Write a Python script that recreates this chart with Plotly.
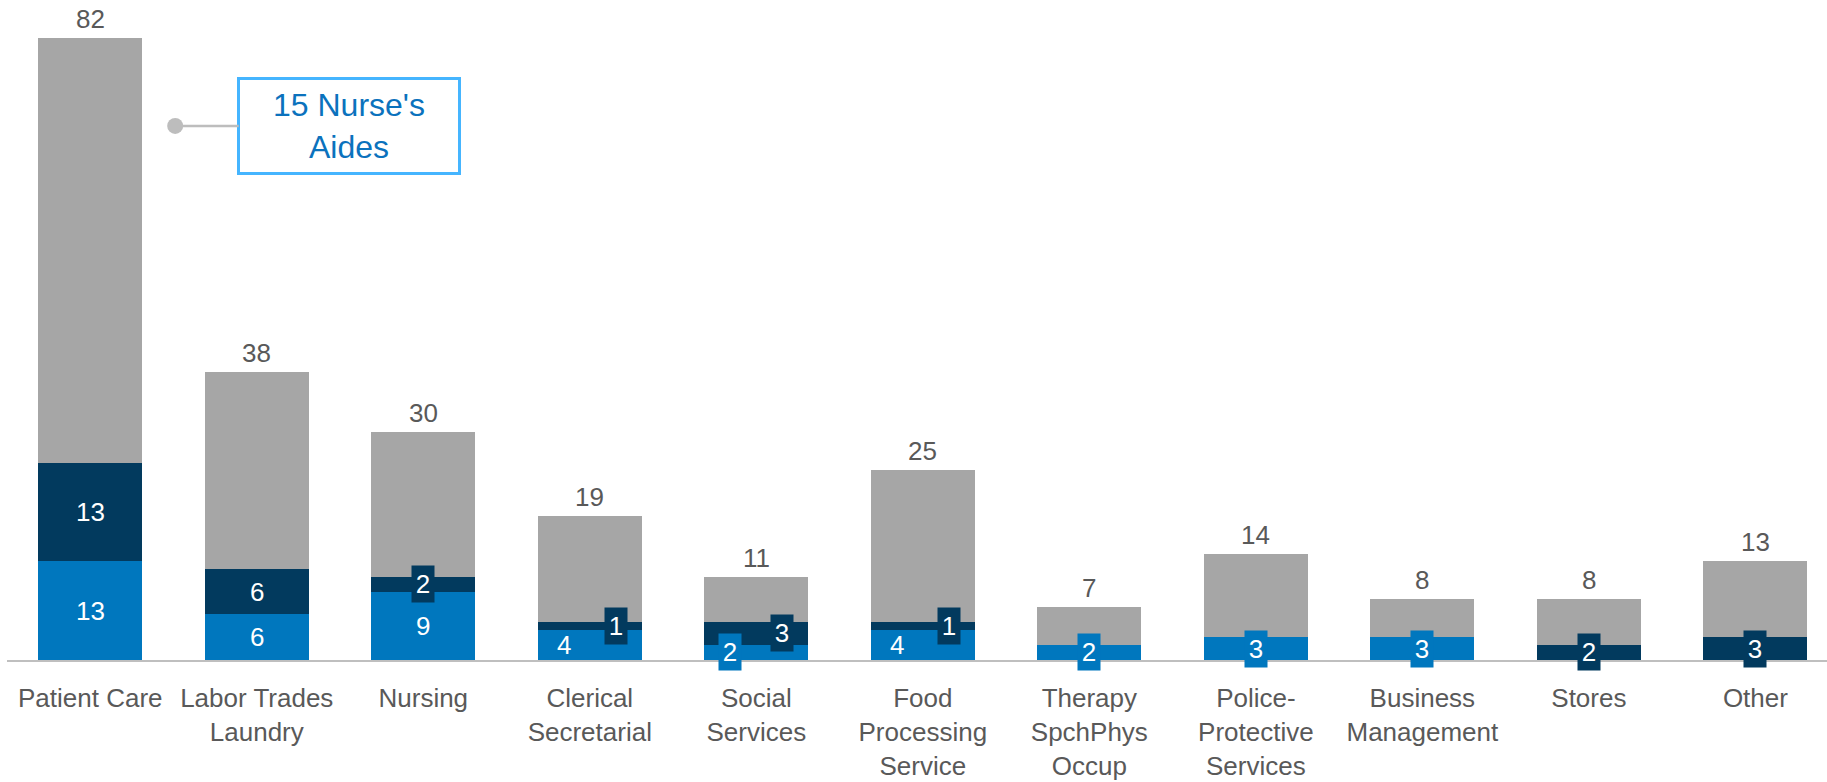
import plotly.graph_objects as go

# ---- data ----
categories = ["Patient Care", "Labor Trades<br>Laundry", "Nursing", "Clerical<br>Secretarial",
              "Social<br>Services", "Food<br>Processing<br>Service", "Therapy<br>SpchPhys<br>Occup",
              "Police-<br>Protective<br>Services", "Business<br>Management", "Stores", "Other"]
blue_vals = [13, 6, 9, 4, 2, 4, 2, 3, 3, 0, 0]
navy_vals = [13, 6, 2, 1, 3, 1, 0, 0, 0, 2, 3]
totals = [82, 38, 30, 19, 11, 25, 7, 14, 8, 8, 13]
gray_vals = [t - b - n for t, b, n in zip(totals, blue_vals, navy_vals)]
callout_text = "15 Nurse's<br>Aides"
callout_category = 0
callout_value = 70.4

# ---- styles ----
BLUE = "#0077BE"
NAVY = "#023A5E"
GRAY = "#A6A6A6"
TEXT_GRAY = "#595959"
FONT = "Liberation Sans, Arial, sans-serif"
SMALL = 3          # segments at or below this value get a boxed label
PAIR_SHIFT = 26    # px shift when both small segments are labelled side by side

x = list(range(len(categories)))

fig = go.Figure()
for vals, col in [(blue_vals, BLUE), (navy_vals, NAVY), (gray_vals, GRAY)]:
    fig.add_trace(go.Bar(x=x, y=vals, marker=dict(color=col, line=dict(width=0)),
                         hoverinfo="skip", showlegend=False))

ann = []
for i in x:
    b, n, t = blue_vals[i], navy_vals[i], totals[i]
    side_by_side = b > 0 and n > 0 and n <= SMALL and b <= 4
    segs = [(b, b / 2, BLUE, -PAIR_SHIFT if side_by_side else 0),
            (n, b + n / 2, NAVY, PAIR_SHIFT if side_by_side else 0)]
    for v, yc, col, xs in segs:
        if v <= 0:
            continue
        a = dict(x=i, y=yc, text=str(v), showarrow=False, xshift=xs, yanchor="middle",
                 font=dict(family=FONT, size=26, color="white"))
        if v <= SMALL:
            a.update(bgcolor=col, width=16, height=30, borderpad=3)
        ann.append(a)
    ann.append(dict(x=i, y=t, text=str(t), showarrow=False, yanchor="bottom", yshift=2,
                    font=dict(family=FONT, size=26, color=TEXT_GRAY)))

ann.append(dict(x=callout_category + 0.51, y=callout_value, text=callout_text,
                showarrow=True, ax=174, ay=0, arrowhead=6, arrowsize=1.6, arrowwidth=2.5,
                arrowcolor="#BDBDBD", bordercolor="#45B5FF", borderwidth=3, borderpad=4,
                width=210, height=84, bgcolor="white",
                font=dict(family=FONT, size=32, color="#0B72BD")))

fig.update_layout(
    width=1827, height=782, barmode="stack", bargap=0.375,
    margin=dict(l=7, r=0, t=0, b=122),
    plot_bgcolor="white", paper_bgcolor="white",
    annotations=ann,
    xaxis=dict(range=[-0.5, 10.43], tickvals=x, ticktext=categories, showline=True,
               linecolor="#BFBFBF", linewidth=2, showgrid=False, zeroline=False,
               ticks="", ticklabelstandoff=14, fixedrange=True,
               tickfont=dict(family=FONT, size=26, color=TEXT_GRAY)),
    yaxis=dict(range=[0, 87], visible=False, showgrid=False, zeroline=False, fixedrange=True),
)

fig.write_html("out.html", config={"displayModeBar": False},
               post_script="document.body.style.margin='0px';")
